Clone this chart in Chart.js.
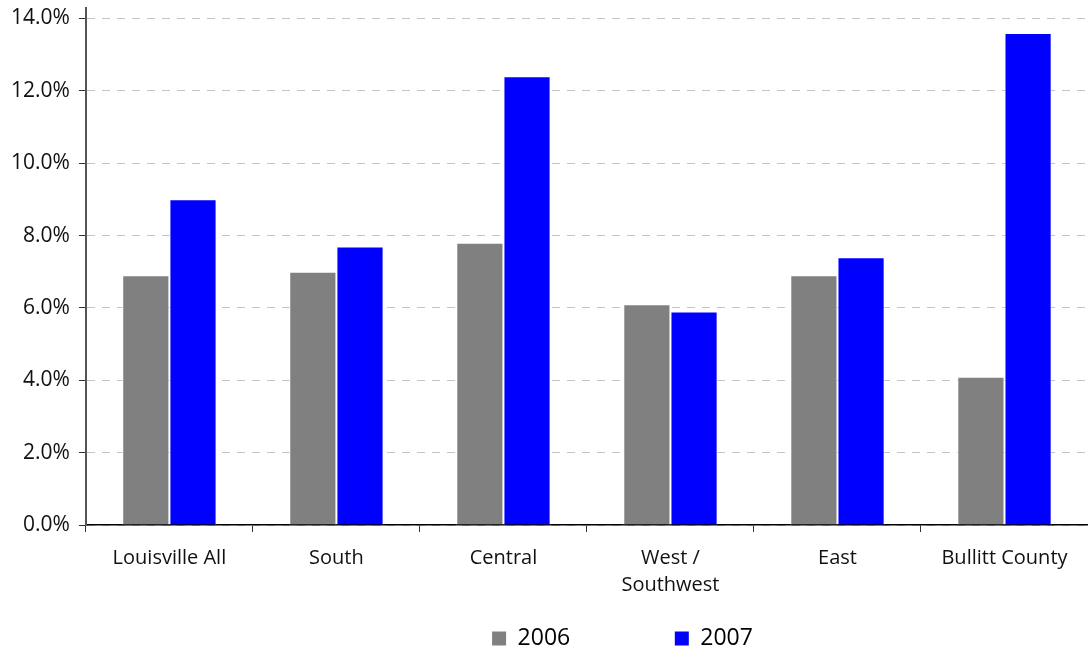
<!DOCTYPE html>
<html>
<head>
<meta charset="utf-8">
<script src="https://cdn.jsdelivr.net/npm/chart.js@4"></script>
<style>
  html, body { margin: 0; padding: 0; background: #fff; }
  #frame { width: 1088px; height: 649px; overflow: hidden; position: relative; }
  #wrap { width: 1088px; height: 674px; position: absolute; left: 0; top: -14px; }
</style>
</head>
<body>
<div id="frame"><div id="wrap"><canvas id="chart"></canvas></div></div>
<script>
const categories = ['Louisville All', 'South', 'Central', ['West /', 'Southwest'], 'East', 'Bullitt County'];
const years = ['2006', '2007'];
const values2006 = [6.9, 7.0, 7.8, 6.1, 6.9, 4.1];
const values2007 = [9.0, 7.7, 12.4, 5.9, 7.4, 13.6];
const yTicks = [0, 2, 4, 6, 8, 10, 12, 14];

Chart.defaults.font.family = '"Open Sans", sans-serif';
Chart.defaults.color = '#111';

// legend sits right of centre in the original
const legendShift = {
    id: 'legendShift',
    afterLayout(chart) {
        chart.legend.left += 155;
    }
};

new Chart(document.getElementById('chart'), {
    type: 'bar',
    data: {
        labels: categories,
        datasets: [{
            label: years[0],
            data: values2006,
            backgroundColor: '#808080',
            borderColor: '#ffffff',
            borderWidth: 1,
            barPercentage: 1,
            categoryPercentage: 0.565,
        }, {
            label: years[1],
            data: values2007,
            backgroundColor: '#0000ff',
            borderColor: '#ffffff',
            borderWidth: 1,
            barPercentage: 1,
            categoryPercentage: 0.565,
        }],
    },
    options: {
        maintainAspectRatio: false,
        animation: false,
        layout: { padding: { left: 2, top: 0, right: 0, bottom: 0 } },
        plugins: {
            tooltip: { enabled: false },
            legend: {
                position: 'bottom',
                labels: {
                    boxWidth: 14,
                    boxHeight: 14,
                    padding: 15,
                    color: '#000',
                    font: { size: 23 },
                    generateLabels(chart) {
                        const items = Chart.defaults.plugins.legend.labels.generateLabels(chart);
                        items[0].text = items[0].text + ' '.repeat(15);
                        items.forEach(it => { it.lineWidth = 0; });
                        return items;
                    }
                }
            }
        },
        scales: {
            x: {
                grid: {
                    offset: true,
                    drawOnChartArea: false,
                    drawTicks: true,
                    tickLength: 7,
                    tickColor: '#333',
                },
                border: { color: '#000', width: 1.5 },
                ticks: { font: { size: 20, lineHeight: 1.35 }, padding: 13, color: '#111', maxRotation: 0 },
            },
            y: {
                min: 0,
                max: 14.3,
                afterBuildTicks(scale) {
                    scale.ticks = yTicks.map(v => ({ value: v }));
                },
                grid: {
                    color: '#c4c4c4',
                    tickColor: '#333',
                    tickLength: 7,
                    tickBorderDash: [],
                },
                border: { color: '#555', width: 2, dash: [8, 7] },
                ticks: {
                    font: { size: 21 },
                    padding: 9,
                    color: '#111',
                    callback: v => v.toFixed(1) + '%',
                },
            },
        },
    },
    plugins: [legendShift],
});
</script>
</body>
</html>
